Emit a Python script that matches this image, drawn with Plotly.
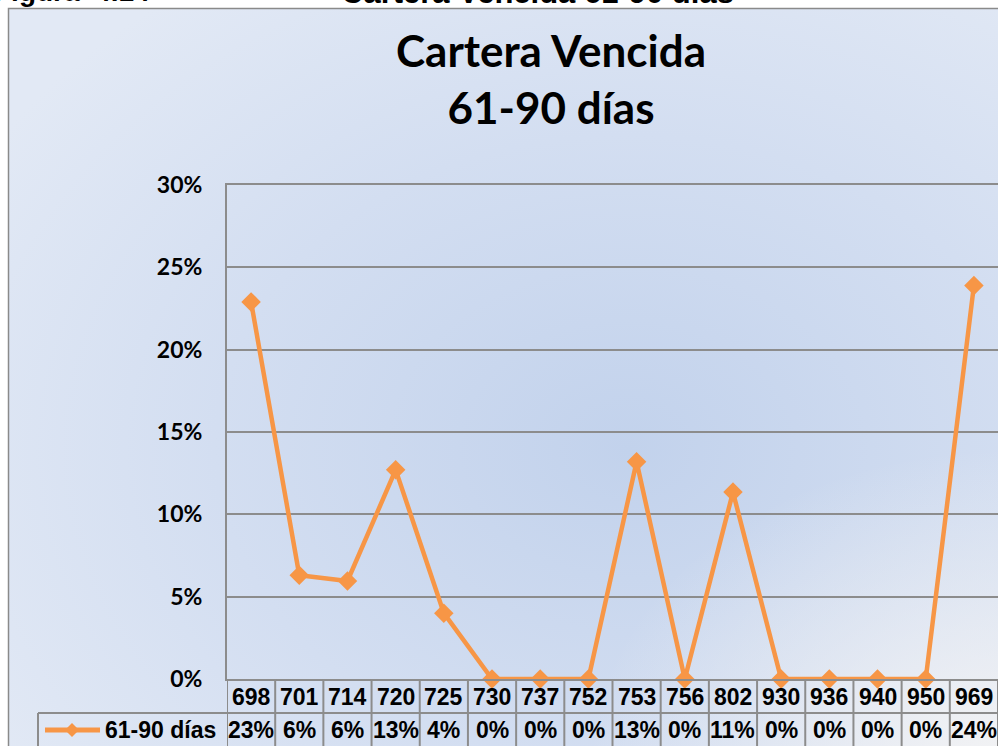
import base64
import plotly.graph_objects as go

categories = ["698", "701", "714", "720", "725", "730", "737", "752",
              "753", "756", "802", "930", "936", "940", "950", "969"]
values = [0.229, 0.063, 0.0595, 0.127, 0.040, 0.0, 0.0, 0.0,
          0.132, 0.0, 0.1135, 0.0, 0.0, 0.0, 0.0, 0.239]
series_name = "61-90 días"
y_ticks = [0, 0.05, 0.10, 0.15, 0.20, 0.25, 0.30]
y_tick_labels = ["0%", "5%", "10%", "15%", "20%", "25%", "30%"]

W, H = 998, 746
L, R, T, B = 227, 0, 185, 67
PW, PH = W - L - R, H - T - B

def px(x):
    return (x - L) / PW

def py(y):
    return (H - B - y) / PH

ORANGE = "#F79646"
GRID = "#8C8C8C"

svg = f'''<svg xmlns="http://www.w3.org/2000/svg" width="{W}" height="{H}" viewBox="0 0 {W} {H}" preserveAspectRatio="none">
<defs>
<radialGradient id="g" cx="0.62" cy="0.58" r="0.75">
<stop offset="0" stop-color="#c2d2ec"/>
<stop offset="0.55" stop-color="#d3def1"/>
<stop offset="1" stop-color="#e2e9f5"/>
</radialGradient>
<radialGradient id="h" cx="1" cy="1" r="0.42">
<stop offset="0" stop-color="#f3f3f4" stop-opacity="1"/>
<stop offset="1" stop-color="#f3f3f4" stop-opacity="0"/>
</radialGradient>
</defs>
<rect x="8" y="8" width="1000" height="760" fill="url(#g)"/>
<rect x="8" y="8" width="1000" height="760" fill="url(#h)"/>
<rect x="8.5" y="8.5" width="1000" height="760" fill="none" stroke="#8a8a8a" stroke-width="1.5"/>
</svg>'''
src = "data:image/svg+xml;base64," + base64.b64encode(svg.encode()).decode()

fig = go.Figure()
fig.add_trace(go.Scatter(
    x=categories, y=values, mode="lines+markers", name=series_name,
    line=dict(color=ORANGE, width=4.5),
    marker=dict(symbol="diamond", size=15, color=ORANGE),
    showlegend=False, cliponaxis=False,
))

shapes = []
annotations = []
tbl_top = H - B
row_mid = 713
tbl_bot = H + 5
for i in range(len(categories) + 1):
    shapes.append(dict(type="line", xref="x", yref="paper",
                       x0=i - 0.5, x1=i - 0.5, y0=py(tbl_top), y1=py(tbl_bot),
                       line=dict(color=GRID, width=2), layer="above"))
shapes.append(dict(type="line", xref="paper", yref="paper",
                   x0=px(38), x1=px(W + 5), y0=py(row_mid), y1=py(row_mid),
                   line=dict(color=GRID, width=2)))
shapes.append(dict(type="line", xref="paper", yref="paper",
                   x0=px(38), x1=px(38), y0=py(row_mid), y1=py(tbl_bot),
                   line=dict(color=GRID, width=2)))
shapes.append(dict(type="line", xref="paper", yref="paper",
                   x0=px(45), x1=px(100), y0=py(730), y1=py(730),
                   line=dict(color=ORANGE, width=5)))
cx, cy, d = 72, 730, 7
shapes.append(dict(type="path", xref="paper", yref="paper",
                   path=f"M {px(cx-d)} {py(cy)} L {px(cx)} {py(cy-d)} L {px(cx+d)} {py(cy)} L {px(cx)} {py(cy+d)} Z",
                   fillcolor=ORANGE, line=dict(width=0)))

table_font = dict(family="Liberation Sans, Arial", size=23, color="black")
for i, (c, v) in enumerate(zip(categories, values)):
    annotations.append(dict(x=i, xref="x", y=py(697), yref="paper", text=f"<b>{c}</b>",
                            showarrow=False, font=table_font, yanchor="middle"))
    annotations.append(dict(x=i, xref="x", y=py(730), yref="paper", text=f"<b>{round(v*100)}%</b>",
                            showarrow=False, font=table_font, yanchor="middle"))
annotations.append(dict(x=px(103), xref="paper", y=py(730), yref="paper", text=f"<b>{series_name}</b>",
                        showarrow=False, font=table_font, xanchor="left", yanchor="middle"))

annotations.append(dict(x=px(152), xref="paper", y=py(9), yref="paper", text="<b>Figura  4.14</b>",
                        showarrow=False, font=dict(family="Liberation Sans, Arial", size=28, color="black"),
                        xanchor="right", yanchor="bottom"))
annotations.append(dict(x=px(537), xref="paper", y=py(12), yref="paper", text="<b>Cartera Vencida 61-90 días</b>",
                        showarrow=False, font=dict(family="Liberation Sans, Arial", size=31, color="black"),
                        xanchor="center", yanchor="bottom"))

fig.update_layout(
    width=W, height=H,
    margin=dict(l=L, r=R, t=T, b=B, pad=0),
    paper_bgcolor="white",
    plot_bgcolor="rgba(0,0,0,0)",
    title=dict(text="<b>Cartera Vencida<br>61-90 días</b>", x=px(551), xref="paper", xanchor="center",
               y=1 - 67 / H, yref="container", yanchor="middle",
               font=dict(family="Lato, Open Sans", size=44, color="black")),
    xaxis=dict(type="category", range=[-0.5, len(categories) - 0.5], showticklabels=False,
               showgrid=False, showline=True, mirror=True, linecolor=GRID, linewidth=2,
               zeroline=False, ticks=""),
    yaxis=dict(range=[0, 0.30], tickvals=y_ticks, ticktext=[f"<b>{t}</b>" for t in y_tick_labels],
               showgrid=True, gridcolor=GRID, gridwidth=2, showline=True, linecolor=GRID, linewidth=2,
               zeroline=False, ticks="", ticklabelstandoff=18,
               tickfont=dict(family="Lato, Open Sans", size=23, color="black")),
    shapes=shapes,
    annotations=annotations,
    images=[dict(source=src, xref="paper", yref="paper", x=px(0), y=py(0),
                 sizex=W / PW, sizey=H / PH, xanchor="left", yanchor="top",
                 sizing="stretch", layer="below")],
)

fig.write_html("out.html", config={"displayModeBar": False},
               post_script="document.body.style.margin='0';document.body.style.overflow='hidden';")
